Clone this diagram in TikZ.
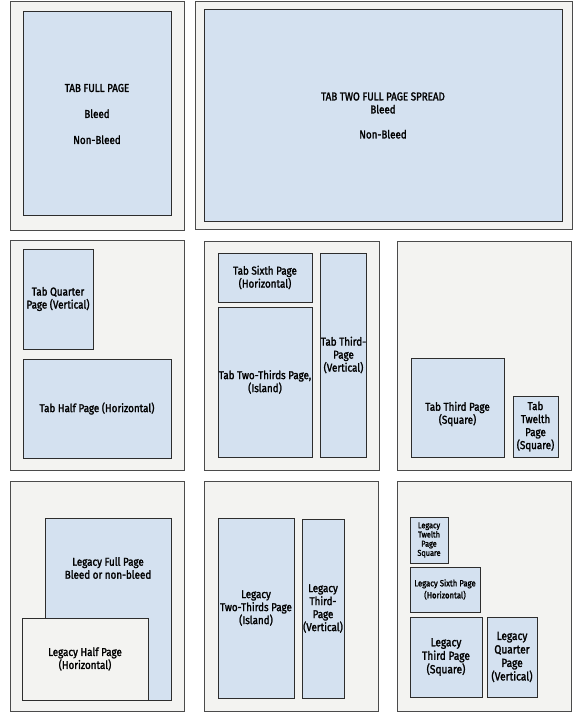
\documentclass[tikz,border=0pt]{standalone}
\usepackage{fontspec}
\setmainfont{Fira Sans}[FakeStretch=0.86,FakeBold=1.8]
\definecolor{adblue}{RGB}{212,225,240}
\definecolor{panelbg}{RGB}{243,243,241}
\definecolor{panelline}{RGB}{75,75,75}
\definecolor{boxline}{RGB}{45,45,45}
\newcommand\normaltxt{\fontsize{11.4}{13}\selectfont}
\newcommand\smalltxt{\fontsize{8.5}{9.2}\selectfont}
\newcommand\midtxt{\fontsize{9}{12}\selectfont}
\newcommand\bigtxt{\fontsize{11.8}{13.5}\selectfont}
% name, style, x1, y1, x2, y2, text
\newcommand\placebox[7]{\node[#2, minimum width={#5-#3}, minimum height={#6-#4}] (#1) at ({(#3+#5)/2},{(#4+#6)/2}) {#7};}
\begin{document}
\begin{tikzpicture}[x=1pt,y=-1pt,
  panel/.style={draw=panelline, fill=panelbg, line width=0.9pt, inner sep=0pt, outer sep=0pt},
  adbox/.style={draw=boxline, fill=adblue, line width=1pt, inner sep=0pt, outer sep=0pt, align=center, font=\normaltxt},
  smallbox/.style={adbox, font=\smalltxt},
  midbox/.style={adbox, font=\midtxt},
  bigbox/.style={adbox, font=\bigtxt},
  greybox/.style={adbox, fill=panelbg},
  txt/.style={inner sep=0pt, align=center, font=\normaltxt}]
\useasboundingbox[fill=white] (0,0) rectangle (581,719);
% Row 1
\placebox{p1}{panel}{10}{1}{184}{230}{}
\placebox{fullpage}{adbox}{23}{12}{171}{216}{TAB FULL PAGE\\[13pt]Bleed\\[13pt]Non-Bleed}
\placebox{p2}{panel}{195}{1}{572}{229}{}
\placebox{spread}{adbox}{204}{10}{562}{221}{TAB TWO FULL PAGE SPREAD\\Bleed\\[12pt]Non-Bleed}
% Row 2
\placebox{p3}{panel}{10}{240}{184}{470}{}
\placebox{quarter}{adbox}{23}{249}{93}{349}{Tab Quarter\\Page (Vertical)}
\placebox{half}{adbox}{23}{359}{171}{458}{Tab Half Page (Horizontal)}
\placebox{p4}{panel}{204}{241}{379}{470}{}
\placebox{sixth}{adbox}{218}{253}{312}{302}{Tab Sixth Page\\(Horizontal)}
\placebox{twothirds}{adbox}{218}{307}{312}{457}{Tab Two-Thirds Page,\\(Island)}
\placebox{thirdv}{adbox}{321}{253}{366}{457}{Tab Third-\\Page\\(Vertical)}
\placebox{p5}{panel}{397}{241}{571}{470}{}
\placebox{thirdsq}{adbox}{411}{358}{504}{457}{}
\node[txt] (thirdsqtxt) at (457.5,414) {Tab Third Page\\(Square)};
\placebox{twelfth}{adbox}{513}{396}{558}{457}{Tab\\Twelth\\Page\\(Square)}
% Row 3
\placebox{p6}{panel}{10}{481}{184}{711}{}
\placebox{lfull}{adbox}{45}{518}{171}{700}{}
\node[txt] (lfulltxt) at (108,568) {Legacy Full Page\\Bleed or non-bleed};
\placebox{lhalf}{greybox}{22}{618}{148}{700}{Legacy Half Page\\(Horizontal)}
\placebox{p7}{panel}{204}{481}{378}{711}{}
\placebox{ltwothirds}{adbox}{218}{518}{294}{698}{Legacy\\Two-Thirds Page\\(Island)}
\placebox{lthirdv}{adbox}{302}{519}{344}{698}{Legacy\\Third-\\Page\\(Vertical)}
\placebox{p8}{panel}{397}{481}{571}{711}{}
\placebox{ltwelfth}{smallbox}{410}{517}{448}{563}{Legacy\\Twelth\\Page\\Square}
\placebox{lsixth}{midbox}{410}{567}{480}{612}{Legacy Sixth Page\\(Horizontal)}
\placebox{lthirdsq}{bigbox}{410}{617}{482}{697}{Legacy\\Third Page\\(Square)}
\placebox{lquarter}{bigbox}{487}{617}{537}{697}{Legacy\\Quarter\\Page\\(Vertical)}
\end{tikzpicture}
\end{document}
